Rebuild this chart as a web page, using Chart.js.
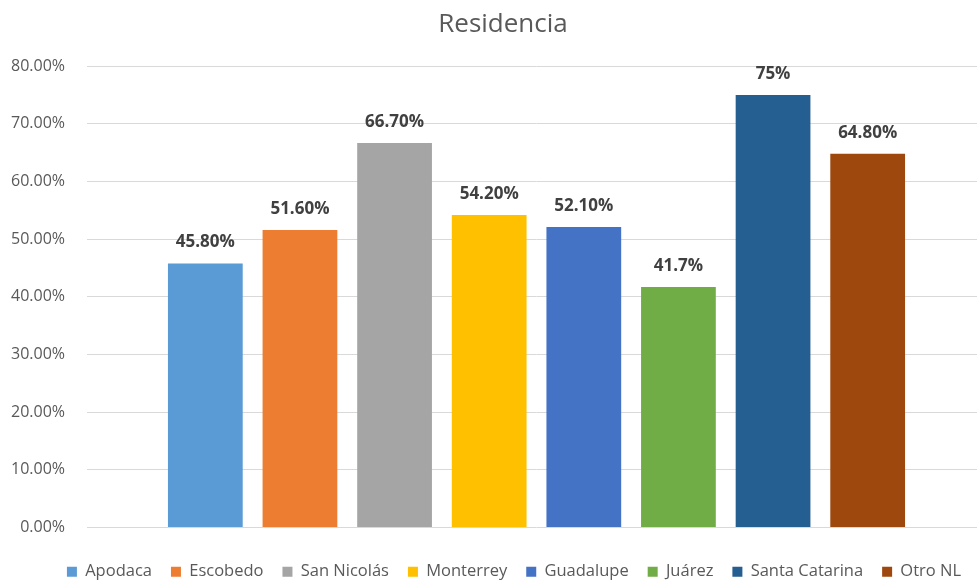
<!DOCTYPE html>
<html>
<head>
<meta charset="utf-8">
<script src="https://cdn.jsdelivr.net/npm/chart.js@4"></script>
<style>
  html, body { margin: 0; padding: 0; background: #fff; overflow: hidden; }
  #wrap { width: 990px; height: 590px; }
</style>
</head>
<body>
<div id="wrap"><canvas id="chart" width="990" height="590"></canvas></div>
<script>
const categories = ["Apodaca", "Escobedo", "San Nicolás", "Monterrey", "Guadalupe", "Juárez", "Santa Catarina", "Otro NL"];
const values = [45.8, 51.6, 66.7, 54.2, 52.1, 41.7, 75, 64.8];
const valueLabels = ["45.80%", "51.60%", "66.70%", "54.20%", "52.10%", "41.7%", "75%", "64.80%"];
const colors = ["#5B9BD5", "#ED7D31", "#A5A5A5", "#FFC000", "#4472C4", "#70AD47", "#255E91", "#9E480E"];
const yTicks = [0, 10, 20, 30, 40, 50, 60, 70, 80];

const fontFamily = "'Open Sans', 'Noto Sans', sans-serif";

// one category, one dataset per municipality (like the Excel chart)
const datasets = categories.map((name, i) => ({
    label: name,
    data: [values[i]],
    backgroundColor: colors[i],
    borderWidth: 0,
    barPercentage: 0.79,
    categoryPercentage: 0.842
}));

const valueLabelPlugin = {
    id: "valueLabels",
    afterDatasetsDraw(chart) {
        const ctx = chart.ctx;
        ctx.save();
        ctx.font = "bold 17px " + fontFamily;
        ctx.fillStyle = "#404040";
        ctx.textAlign = "center";
        ctx.textBaseline = "middle";
        chart.data.datasets.forEach((ds, i) => {
            const bar = chart.getDatasetMeta(i).data[0];
            ctx.fillText(valueLabels[i], bar.x, bar.y - 21);
        });
        ctx.restore();
    }
};

// nudge title and legend a bit to the right, as in the original
const boxShift = {
    id: "boxShift",
    afterLayout(chart) {
        chart.titleBlock.left += 10;
        chart.titleBlock.right += 10;
        chart.legend.left += 21;
        chart.legend.right += 21;
    }
};

new Chart(document.getElementById("chart"), {
    type: "bar",
    data: {
        labels: [""],
        datasets: datasets
    },
    options: {
        responsive: false,
        animation: false,
        layout: { padding: { left: 0, right: 4, top: 0, bottom: 0 } },
        plugins: {
            title: {
                display: true,
                text: "Residencia",
                color: "#595959",
                font: { family: fontFamily, size: 26, weight: "normal" },
                padding: { top: 9, bottom: 26 }
            },
            legend: {
                position: "bottom",
                labels: {
                    color: "#595959",
                    font: { family: fontFamily, size: 16.5 },
                    boxWidth: 10,
                    boxHeight: 10,
                    padding: 19
                }
            },
            tooltip: { enabled: false }
        },
        scales: {
            x: {
                ticks: { display: false },
                grid: { display: false },
                border: { display: false },
                afterFit(axis) { axis.height = 17; }
            },
            y: {
                min: 0,
                max: 80,
                afterBuildTicks(axis) {
                    axis.ticks = yTicks.map(v => ({ value: v }));
                },
                afterFit(axis) { axis.width = 87; },
                ticks: {
                    color: "#595959",
                    font: { family: fontFamily, size: 16 },
                    padding: 22,
                    callback: v => v.toFixed(2) + "%"
                },
                grid: { color: "#D9D9D9", drawTicks: false },
                border: { display: false }
            }
        }
    },
    plugins: [valueLabelPlugin, boxShift]
});
</script>
</body>
</html>
